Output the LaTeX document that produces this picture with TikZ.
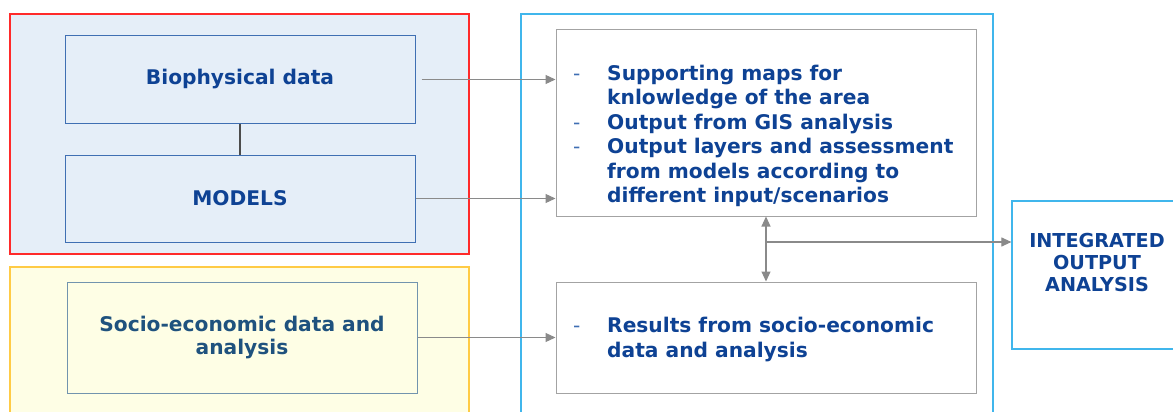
\documentclass[tikz,border=0pt]{standalone}
\usepackage{fontspec}
\setmainfont{DejaVu Sans}
\usetikzlibrary{arrows.meta}

\definecolor{paleblue}{HTML}{E5EEF8}
\definecolor{paleyellow}{HTML}{FEFEE5}
\definecolor{framered}{HTML}{FF2A2A}
\definecolor{frameyellow}{HTML}{FFCB45}
\definecolor{framecyan}{HTML}{40B6EC}
\definecolor{boxblue}{HTML}{3F6FB3}
\definecolor{boxsteel}{HTML}{7294AE}
\definecolor{boxgray}{HTML}{A3A3A3}
\definecolor{txtblue}{HTML}{0E4294}
\definecolor{txtteal}{HTML}{1F527E}
\definecolor{arrgray}{HTML}{8A8A8A}

\tikzset{
  inbox/.style={draw=boxblue, line width=1pt, fill=paleblue, minimum width=350pt,
    minimum height=87pt, text=txtblue, font=\fontsize{20.2}{23.5}\selectfont\bfseries},
  outbox/.style={draw=boxgray, line width=1pt, minimum width=420pt},
  listtext/.style={anchor=west, inner sep=0pt, text=txtblue, align=left,
    font=\fontsize{20.2}{24.5}\selectfont\bfseries},
  flow/.style={draw=arrgray, line width=1.1pt, -{Triangle[length=10pt,width=9pt]}},
}
\newcommand{\dashmark}{\makebox[34pt][l]{\mdseries\color{boxblue}-}}
\newcommand{\nodash}{\hspace*{34pt}}

\begin{document}
\begin{tikzpicture}[x=1pt,y=-1pt]
\useasboundingbox (0,0) rectangle (1173,412);
% frames
\draw[framered, line width=1.2pt, fill=paleblue] (10,14) rectangle (469,254);
\draw[frameyellow, line width=1.2pt, fill=paleyellow] (10,267) rectangle (469,420);
\draw[framecyan, line width=1.2pt] (521,14) rectangle (993,420);

\node[inbox] (bio) at (240,79.5) {Biophysical data};
\node[inbox] (models) at (240,198.5) {MODELS};
\draw[black!70, line width=1.1pt] (bio) -- (models);
\node[inbox, draw=boxsteel, fill=paleyellow, text=txtteal, minimum height=111pt,
  align=center] (socio) at (242,337.5) {Socio-economic data and\\analysis};

\node[outbox, minimum height=186pt] (out1) at (766,123) {};
\node[outbox, minimum height=111pt] (out2) at (766,337.5) {};
\node[listtext] (out1txt) at (573,136) {%
  \dashmark Supporting maps for\\
  \nodash knlowledge of the area\\
  \dashmark Output from GIS analysis\\
  \dashmark Output layers and assessment\\
  \nodash from models according to\\
  \nodash different input/scenarios};
\node[listtext] (out2txt) at (573,339.5) {%
  \dashmark Results from socio-economic\\
  \nodash data and analysis};

\node[draw=framecyan, line width=1.2pt, minimum width=170pt, minimum height=148pt]
  (integ) at (1097,275) {};
\node[text=txtblue, align=center, font=\fontsize{19.2}{22}\selectfont\bfseries]
  (integtxt) at ([yshift=12.5pt]integ.center) {INTEGRATED\\OUTPUT\\ANALYSIS};

\draw[flow, shorten <=6pt] (bio.east) -- (bio.east -| out1.west);
\draw[flow] (models.east) -- (models.east -| out1.west);
\draw[flow] (socio.east) -- (socio.east -| out2.west);
\draw[flow, {Triangle[length=10pt,width=9pt]}-{Triangle[length=10pt,width=9pt]}]
  (out1.south) -- (out2.north);
\coordinate (split) at (766,242);
\draw[flow] (split) -- (split -| integ.west);
\end{tikzpicture}
\end{document}
